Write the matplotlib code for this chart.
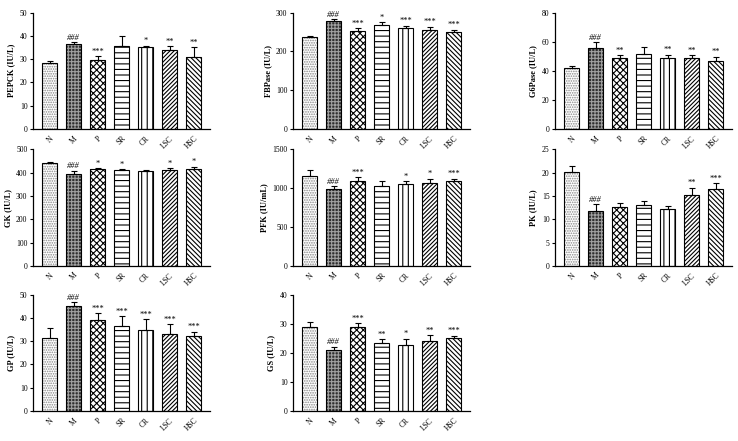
import matplotlib
matplotlib.use("Agg")
import matplotlib.pyplot as plt
import numpy as np

plt.rcParams['font.family'] = ['Liberation Serif', 'DejaVu Serif']
plt.rcParams['hatch.linewidth'] = 0.8

# grupos
groups = ["N", "M", "P", "SR", "CR", "LSC", "HSC"]

# valores (media) e erro de cada painel
pepck = [28.2, 36.5, 29.5, 35.5, 35.0, 33.8, 30.8]
pepck_err = [0.8, 0.7, 1.7, 4.3, 0.8, 1.7, 4.3]
pepck_sig = ["", "###", "***", "", "*", "**", "**"]

fbpase = [237, 278, 253, 268, 259, 255, 251]
fbpase_err = [3, 5, 7, 7, 7, 9, 5]
fbpase_sig = ["", "###", "***", "*", "***", "***", "***"]

g6pase = [42.0, 55.5, 48.5, 51.5, 49.0, 49.0, 47.0]
g6pase_err = [1.0, 4.0, 2.0, 4.5, 2.0, 1.8, 2.5]
g6pase_sig = ["", "###", "**", "", "**", "**", "**"]

gk = [440, 393, 415, 412, 407, 412, 415]
gk_err = [5, 15, 4, 4, 4, 7, 10]
gk_sig = ["", "###", "*", "*", "", "*", "*"]

pfk = [1160, 985, 1100, 1035, 1050, 1065, 1090]
pfk_err = [80, 40, 40, 60, 40, 60, 35]
pfk_sig = ["", "###", "***", "", "*", "*", "***"]

pk = [20.1, 11.7, 12.7, 13.1, 12.2, 15.3, 16.5]
pk_err = [1.4, 1.5, 0.8, 0.8, 0.6, 1.5, 1.3]
pk_sig = ["", "###", "", "", "", "**", "***"]

gp = [31.3, 45.3, 39.0, 36.6, 35.0, 33.0, 32.2]
gp_err = [4.2, 1.4, 3.0, 4.0, 4.5, 4.2, 1.8]
gp_sig = ["", "###", "***", "***", "***", "***", "***"]

gs = [28.7, 20.8, 28.9, 23.5, 22.8, 24.2, 25.1]
gs_err = [1.8, 1.3, 1.2, 1.1, 2.0, 1.8, 0.7]
gs_sig = ["", "###", "***", "**", "*", "**", "***"]

# estilo de cada barra: (cor de fundo, cor do hatch, hatch)
estilos = [
    ("white", "#888888", "......."),
    ("#2e2e2e", "#a0a0a0", "+++++"),
    ("white", "black", "xxxxx"),
    ("white", "black", "---"),
    ("white", "black", "|||"),
    ("white", "black", "////////"),
    ("white", "black", "\\\\\\\\\\\\\\"),
]

paineis = [
    (pepck, pepck_err, pepck_sig, "PEPCK (IU/L)", 50, 10),
    (fbpase, fbpase_err, fbpase_sig, "FBPase (IU/L)", 300, 100),
    (g6pase, g6pase_err, g6pase_sig, "G6Pase (IU/L)", 80, 20),
    (gk, gk_err, gk_sig, "GK (IU/L)", 500, 100),
    (pfk, pfk_err, pfk_sig, "PFK (IU/mL)", 1500, 500),
    (pk, pk_err, pk_sig, "PK (IU/L)", 25, 5),
    (gp, gp_err, gp_sig, "GP (IU/L)", 50, 10),
    (gs, gs_err, gs_sig, "GS (IU/L)", 40, 10),
]

fig = plt.figure(figsize=(7.38, 4.41), dpi=100)

lefts = [0.0447, 0.397, 0.752]
bottoms = [0.7075, 0.397, 0.068]
w, h = 0.24, 0.264

x = np.arange(len(groups))
for i, (vals, err, sig, ylab, ymax, step) in enumerate(paineis):
    ax = fig.add_axes([lefts[i % 3], bottoms[i // 3], w, h])
    for j in range(len(groups)):
        fc, hc, hatch = estilos[j]
        ax.bar(x[j], vals[j], width=0.62, color=fc, edgecolor=hc, hatch=hatch, linewidth=0, zorder=2)
        ax.bar(x[j], vals[j], width=0.62, color="none", edgecolor="black", linewidth=0.8, zorder=3)
    ax.errorbar(x, vals, yerr=[np.zeros(len(vals)), err], fmt="none", ecolor="black",
                elinewidth=0.8, capsize=2.5, capthick=0.8, zorder=4)
    for j in range(len(groups)):
        if sig[j]:
            ax.text(x[j], vals[j] + err[j] + ymax * 0.005, sig[j], ha="center", va="bottom",
                    fontsize=6, style="italic" if sig[j].startswith("#") else "normal", zorder=5)
    ax.set_xlim(-0.69, 6.69)
    ax.set_ylim(0, ymax)
    ax.set_yticks(np.arange(0, ymax + step / 2, step))
    ax.set_xticks(x)
    ax.set_xticklabels(groups, rotation=45, ha="right", rotation_mode="anchor", fontsize=5.5)
    ax.tick_params(axis="y", labelsize=5.5, length=2.5, width=0.8, pad=1.5)
    ax.tick_params(axis="x", length=0, pad=4)
    ax.set_ylabel(ylab, fontsize=6, fontweight="bold", labelpad=3)
    ax.spines["top"].set_visible(False)
    ax.spines["right"].set_visible(False)
    ax.spines["left"].set_linewidth(0.9)
    ax.spines["bottom"].set_linewidth(0.9)

fig.savefig("out.png", dpi=100)
